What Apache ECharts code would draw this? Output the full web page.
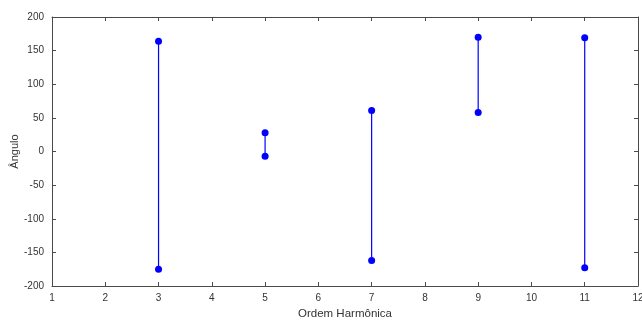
<!DOCTYPE html>
<html>
<head>
<meta charset="utf-8">
<script src="https://cdn.jsdelivr.net/npm/echarts@6/dist/echarts.min.js"></script>
<style>html,body{margin:0;padding:0;background:#fff}#c{width:642px;height:320px}</style>
</head>
<body>
<div id="c"></div>
<script>
const harmonics = [3, 5, 7, 9, 11];
const angleUpper = [164, 28, 61, 170, 169];
const angleLower = [-175, -7, -162, 58, -173];
const xTicks = [1, 2, 3, 4, 5, 6, 7, 8, 9, 10, 11, 12];
const yTicks = [-200, -150, -100, -50, 0, 50, 100, 150, 200];

const axisColor = '#4a4a4a';
const labelColor = '#333';
const font = 'Liberation Sans, Arial, sans-serif';

const series = harmonics.map((h, i) => ({
  type: 'line',
  data: [[h, angleUpper[i]], [h, angleLower[i]]],
  symbol: 'circle',
  symbolSize: 7,
  lineStyle: { color: '#0000ff', width: 1.2 },
  itemStyle: { color: '#0000ff' },
  animation: false,
  z: 3
}));

const baseX = {
  type: 'value',
  min: xTicks[0], max: xTicks[xTicks.length - 1], interval: 1,
  axisLine: { show: true, onZero: false, lineStyle: { color: axisColor, width: 1 } },
  axisTick: { show: true, inside: true, length: 4, lineStyle: { color: axisColor } },
  splitLine: { show: false }
};
const baseY = {
  type: 'value',
  min: yTicks[0], max: yTicks[yTicks.length - 1], interval: 50,
  axisLine: { show: true, onZero: false, lineStyle: { color: axisColor, width: 1 } },
  axisTick: { show: true, inside: true, length: 4, lineStyle: { color: axisColor } },
  splitLine: { show: false }
};

const chart = echarts.init(document.getElementById('c'), null, { renderer: 'canvas' });
chart.setOption({
  backgroundColor: '#fff',
  animation: false,
  grid: { left: 52, right: 4, top: 17, bottom: 34, containLabel: false, outerBoundsMode: 'none' },
  xAxis: [
    Object.assign({}, baseX, {
      position: 'bottom',
      axisLabel: { color: labelColor, fontSize: 10, fontFamily: font, margin: 7 },
      name: 'Ordem Harmônica', nameLocation: 'middle', nameGap: 22, nameMoveOverlap: false,
      nameTextStyle: { color: labelColor, fontSize: 11.5, fontFamily: font }
    }),
    Object.assign({}, baseX, { position: 'top', axisLabel: { show: false } })
  ],
  yAxis: [
    Object.assign({}, baseY, {
      position: 'left',
      axisLabel: { color: labelColor, fontSize: 10, fontFamily: font, margin: 8 },
      name: 'Ângulo', nameLocation: 'middle', nameGap: 32, nameMoveOverlap: false,
      nameTextStyle: { color: labelColor, fontSize: 11, fontFamily: font }
    }),
    Object.assign({}, baseY, { position: 'right', axisLabel: { show: false } })
  ],
  series: series
});
</script>
</body>
</html>
